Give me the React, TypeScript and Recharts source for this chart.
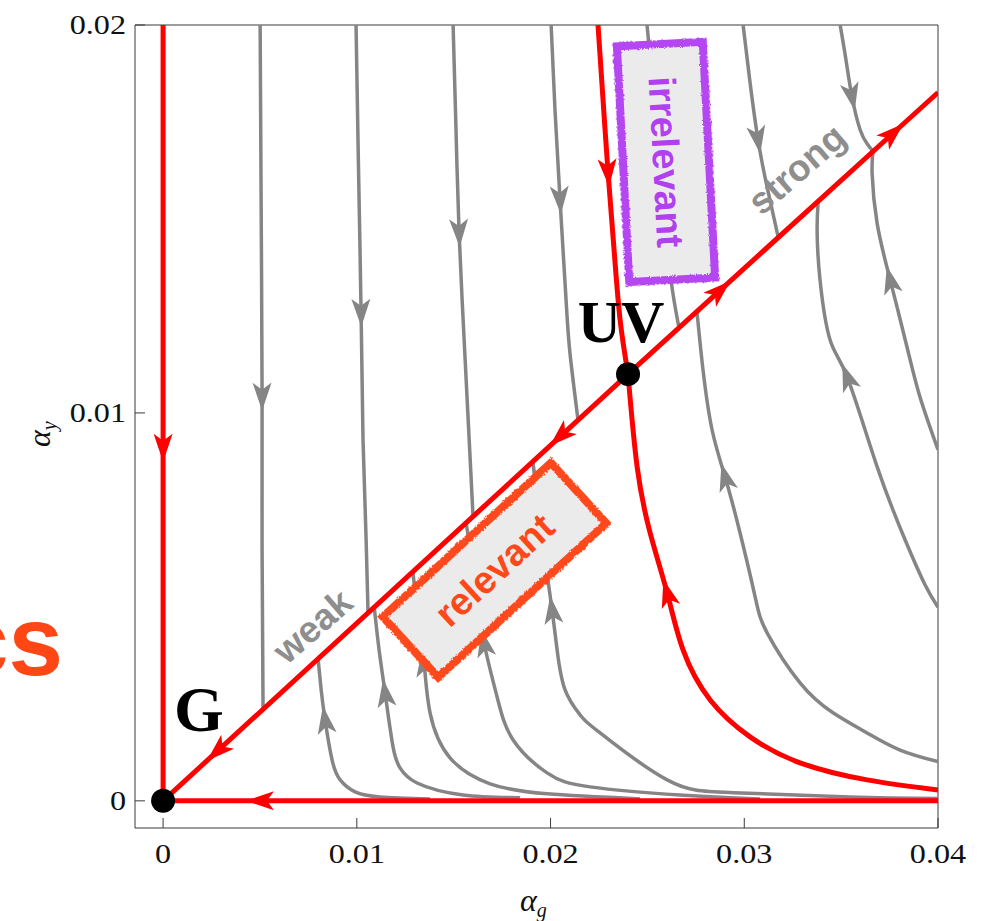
import React from 'react';
import { ComposedChart, Line, XAxis, YAxis, ReferenceLine, ReferenceDot } from 'recharts';

type Pt = { x: number; y: number; a?: number };

// ---------- axes ----------
const xTicks = [0, 0.01, 0.02, 0.03, 0.04];
const yTicks = [0, 0.01, 0.02];
const xDomain: [number, number] = [-0.00145, 0.04];
const yDomain: [number, number] = [-0.0007, 0.02];

// ---------- fixed points ----------
const pointG = { x: 0, y: 0 };
const pointUV = { x: 0.024, y: 0.011 };

// ---------- red separatrices (ordered along the flow, a = arrowhead) ----------
const sepVertical: Pt[] = [
  { x: 0, y: 0.02 }, { x: 0, y: 0.0091, a: 1 }, { x: 0, y: 0 },
];
const sepHorizontal: Pt[] = [
  { x: 0.04, y: 0 }, { x: 0.005, y: 0, a: 1 }, { x: 0, y: 0 },
];
const sepDiagToG: Pt[] = [
  { x: 0.024, y: 0.011 }, { x: 0.02049, y: 0.00939, a: 1 }, { x: 0.0028, y: 0.00128, a: 1 }, { x: 0, y: 0 },
];
const sepDiagOut: Pt[] = [
  { x: 0.024, y: 0.011 }, { x: 0.02875, y: 0.01316, a: 1 }, { x: 0.03768, y: 0.01721, a: 1 }, { x: 0.04, y: 0.01826 },
];
const sepIrrTop: Pt[] = [
  { x: 0.02245, y: 0.02 }, { x: 0.02271, y: 0.01807 }, { x: 0.02297, y: 0.01619, a: 1 },
  { x: 0.02328, y: 0.0142 }, { x: 0.02359, y: 0.0124 }, { x: 0.024, y: 0.011 },
];
const sepIrrBottom: Pt[] = [
  { x: 0.04, y: 0.00028 }, { x: 0.03634, y: 0.00054 }, { x: 0.03288, y: 0.00098 }, { x: 0.0303, y: 0.00165 },
  { x: 0.02824, y: 0.0026 }, { x: 0.02684, y: 0.00389 }, { x: 0.02602, y: 0.00536, a: 1 },
  { x: 0.02514, y: 0.00691 }, { x: 0.02447, y: 0.00861 }, { x: 0.024, y: 0.011 },
];

// ---------- gray stream lines ----------
const flowL1: Pt[] = [
  { x: 0.00501, y: 0.02 }, { x: 0.00506, y: 0.01549 }, { x: 0.00511, y: 0.01042, a: 1 },
  { x: 0.00511, y: 0.00647 }, { x: 0.00516, y: 0.00236 },
];
const flowL2: Pt[] = [
  { x: 0.00996, y: 0.02 }, { x: 0.01007, y: 0.01678 }, { x: 0.01022, y: 0.01258, a: 1 },
  { x: 0.01032, y: 0.00931 }, { x: 0.01048, y: 0.00673 }, { x: 0.01058, y: 0.00485 },
];
const flowL3: Pt[] = [
  { x: 0.01497, y: 0.02 }, { x: 0.01512, y: 0.0173 }, { x: 0.01528, y: 0.01464, a: 1 },
  { x: 0.01554, y: 0.01188 }, { x: 0.0158, y: 0.00931 }, { x: 0.016, y: 0.00733 },
];
const flowL4: Pt[] = [
  { x: 0.02003, y: 0.02 }, { x: 0.02023, y: 0.01781 }, { x: 0.02049, y: 0.01549, a: 1 },
  { x: 0.0208, y: 0.01292 }, { x: 0.021, y: 0.01155 }, { x: 0.02142, y: 0.00981 },
];
const flowL5: Pt[] = [
  { x: 0.02498, y: 0.02 }, { x: 0.0254, y: 0.01781 }, { x: 0.02581, y: 0.01549 },
  { x: 0.02622, y: 0.01343 }, { x: 0.02663, y: 0.0122 },
];
const flowL6: Pt[] = [
  { x: 0.02994, y: 0.02 }, { x: 0.03028, y: 0.01859 }, { x: 0.03071, y: 0.01704, a: 1 },
  { x: 0.03118, y: 0.01582 }, { x: 0.03175, y: 0.01453 },
];
const flowL7: Pt[] = [
  { x: 0.03495, y: 0.02 }, { x: 0.03525, y: 0.0191 }, { x: 0.03556, y: 0.01815, a: 1 },
  { x: 0.03598, y: 0.0173 }, { x: 0.03634, y: 0.01694 }, { x: 0.03665, y: 0.01674 },
];
const flowR1: Pt[] = [
  { x: 0.04, y: 0.00499 }, { x: 0.03933, y: 0.00557 }, { x: 0.0383, y: 0.00673 }, { x: 0.03686, y: 0.00861 },
  { x: 0.03531, y: 0.01093, a: 1 }, { x: 0.03443, y: 0.01188 }, { x: 0.03391, y: 0.01343 },
  { x: 0.03376, y: 0.01472 }, { x: 0.03381, y: 0.01543 },
];
const flowR2: Pt[] = [
  { x: 0.04, y: 0.00905 }, { x: 0.03907, y: 0.01041 }, { x: 0.0384, y: 0.0117 }, { x: 0.03753, y: 0.01343, a: 1 },
  { x: 0.03686, y: 0.01488 }, { x: 0.0366, y: 0.01617 }, { x: 0.03665, y: 0.01676 },
];
const flowR3: Pt[] = [
  { x: 0.04, y: 0.00101 }, { x: 0.03804, y: 0.00131 }, { x: 0.03634, y: 0.00175 }, { x: 0.03458, y: 0.00227 },
  { x: 0.03288, y: 0.00304 }, { x: 0.03118, y: 0.00433 }, { x: 0.03056, y: 0.00526 }, { x: 0.02978, y: 0.00691 },
  { x: 0.02901, y: 0.00835, a: 1 }, { x: 0.02834, y: 0.00956 }, { x: 0.02787, y: 0.01111 }, { x: 0.02756, y: 0.0126 },
];
const flowB1: Pt[] = [
  { x: 0.01378, y: 0.00005 }, { x: 0.0112, y: 0.0001 }, { x: 0.00991, y: 0.00023 }, { x: 0.00914, y: 0.00054 },
  { x: 0.00872, y: 0.00106 }, { x: 0.00836, y: 0.00209, a: 1 }, { x: 0.00816, y: 0.00286 }, { x: 0.008, y: 0.00366 },
];
const flowB2: Pt[] = [
  { x: 0.01843, y: 0.00008 }, { x: 0.01549, y: 0.00015 }, { x: 0.01311, y: 0.00046 }, { x: 0.01223, y: 0.00085 },
  { x: 0.01187, y: 0.00139 }, { x: 0.01146, y: 0.00278, a: 1 }, { x: 0.01115, y: 0.00389 }, { x: 0.0109, y: 0.00499 },
];
const flowB3: Pt[] = [
  { x: 0.02462, y: 0.00005 }, { x: 0.01982, y: 0.00018 }, { x: 0.01688, y: 0.00044 }, { x: 0.01481, y: 0.00111 },
  { x: 0.01378, y: 0.00227 }, { x: 0.01347, y: 0.00356, a: 1 }, { x: 0.01316, y: 0.00467 }, { x: 0.0129, y: 0.00591 },
];
const flowB4: Pt[] = [
  { x: 0.03082, y: 0.00005 }, { x: 0.02669, y: 0.00015 }, { x: 0.02204, y: 0.00036 }, { x: 0.01982, y: 0.00072 },
  { x: 0.01807, y: 0.00157 }, { x: 0.01724, y: 0.00268 }, { x: 0.01657, y: 0.00407, a: 1 }, { x: 0.01626, y: 0.00518 },
  { x: 0.01595, y: 0.00621 }, { x: 0.01564, y: 0.00717 },
];
const flowB5: Pt[] = [
  { x: 0.04, y: 0.00006 }, { x: 0.03546, y: 0.0001 }, { x: 0.02942, y: 0.00021 }, { x: 0.02602, y: 0.00054 },
  { x: 0.02256, y: 0.00175 }, { x: 0.02152, y: 0.00222 }, { x: 0.02075, y: 0.00286 }, { x: 0.02034, y: 0.00389 },
  { x: 0.02008, y: 0.00492, a: 1 }, { x: 0.01972, y: 0.00621 }, { x: 0.01936, y: 0.0075 }, { x: 0.0191, y: 0.00872 },
];

const grayFlows: Pt[][] = [
  flowL1, flowL2, flowL3, flowL4, flowL5, flowL6, flowL7,
  flowR1, flowR2, flowR3, flowB1, flowB2, flowB3, flowB4, flowB5,
];
const redCurved: Pt[][] = [sepIrrTop, sepIrrBottom];
const redStraight: Pt[][] = [sepVertical, sepHorizontal, sepDiagToG, sepDiagOut];

// ---------- annotation texts ----------
const labelWeak = { text: 'weak', x: 0.00774, y: 0.00449 };
const labelStrong = { text: 'strong', x: 0.03273, y: 0.01627 };
const boxIrrelevant = { text: 'irrelevant', x: 0.02596, y: 0.01647 };
const boxRelevant = { text: 'relevant', x: 0.01711, y: 0.00595 };

// ---------- layout ----------
const W = 993;
const H = 921;
const M = { top: 25, right: 55, left: 0, bottom: 0 };
const Y_AXIS_W = 135;
const X_AXIS_H = 93;
const GRAY = '#858585';
const RED = '#ff0000';
const FRAME = '#3a3a3a';
const SERIF = 'Liberation Serif, Times New Roman, serif';
const SANS = 'Liberation Sans, Arial, sans-serif';
const kx = (W - M.right - Y_AXIS_W) / (xDomain[1] - xDomain[0]);
const ky = (H - M.top - X_AXIS_H) / (yDomain[1] - yDomain[0]);

const makeArrowDot = (color: string, series: Pt[]) => (props: any) => {
  const { cx, cy, index, payload, points } = props;
  const key = `dot-${index}`;
  if (!payload || !payload.a || cx == null || cy == null) return <g key={key} />;
  const i0 = Math.max(0, index - 1);
  const i1 = Math.min(series.length - 1, index + 1);
  let dx: number;
  let dy: number;
  if (points && points[i0] && points[i1]) {
    dx = points[i1].x - points[i0].x;
    dy = points[i1].y - points[i0].y;
  } else {
    dx = (series[i1].x - series[i0].x) * kx;
    dy = -(series[i1].y - series[i0].y) * ky;
  }
  const len = Math.hypot(dx, dy) || 1;
  dx /= len;
  dy /= len;
  const L = 28;
  const HW = 9.5;
  const N = 7;
  const tx = cx + (dx * L) / 2;
  const ty = cy + (dy * L) / 2;
  const bx = cx - (dx * L) / 2;
  const by = cy - (dy * L) / 2;
  const lx = bx - dy * HW;
  const ly = by + dx * HW;
  const rx = bx + dy * HW;
  const ry = by - dx * HW;
  const nx = bx + dx * N;
  const ny = by + dy * N;
  return (
    <path
      key={key}
      d={`M${tx},${ty}L${lx},${ly}L${nx},${ny}L${rx},${ry}Z`}
      fill={color}
      stroke="none"
    />
  );
};

const XTick = (props: any) => {
  const { x, y, payload } = props;
  return (
    <g>
      <line x1={x} y1={y} x2={x} y2={y - 10} stroke={FRAME} strokeWidth={1} />
      <text
        x={0}
        y={0}
        textAnchor="middle"
        fontFamily={SERIF}
        fontSize={28}
        fill="#111"
        transform={`translate(${x},${y + 35}) scale(1.15,1)`}
      >
        {String(payload.value)}
      </text>
    </g>
  );
};

const YTick = (props: any) => {
  const { x, y, payload } = props;
  return (
    <g>
      <line x1={x} y1={y} x2={x + 10} y2={y} stroke={FRAME} strokeWidth={1} />
      <text
        x={0}
        y={0}
        textAnchor="end"
        fontFamily={SERIF}
        fontSize={28}
        fill="#111"
        transform={`translate(${x - 9},${y + 9}) scale(1.15,1)`}
      >
        {String(payload.value)}
      </text>
    </g>
  );
};

const RoughFilter = ({ id }: { id: string }) => (
  <defs>
    <filter id={id} x="-10%" y="-10%" width="120%" height="120%">
      <feTurbulence type="fractalNoise" baseFrequency="0.9" numOctaves={2} seed={3} result="noise" />
      <feDisplacementMap in="SourceGraphic" in2="noise" scale={3.5} xChannelSelector="R" yChannelSelector="G" />
    </filter>
  </defs>
);

export default function App() {
  return (
    <div style={{ position: 'absolute', left: 0, top: 0, width: W, height: H, background: '#fff' }}>
      <ComposedChart width={W} height={H} margin={M}>
        <XAxis
          type="number"
          dataKey="x"
          domain={xDomain}
          allowDataOverflow
          ticks={xTicks}
          interval={0}
          height={X_AXIS_H}
          tickLine={false}
          tickSize={0}
          tickMargin={0}
          axisLine={{ stroke: FRAME, strokeWidth: 1 }}
          tick={<XTick />}
        />
        <YAxis
          type="number"
          dataKey="y"
          domain={yDomain}
          allowDataOverflow
          ticks={yTicks}
          interval={0}
          width={Y_AXIS_W}
          tickLine={false}
          tickSize={0}
          tickMargin={0}
          axisLine={{ stroke: FRAME, strokeWidth: 1 }}
          tick={<YTick />}
        />
        <ReferenceLine x={xDomain[1]} stroke={FRAME} strokeWidth={1} ifOverflow="visible" />
        <ReferenceLine y={yDomain[1]} stroke={FRAME} strokeWidth={1} ifOverflow="visible" />

        {grayFlows.map((s, i) => (
          <Line
            key={`g${i}`}
            data={s}
            dataKey="y"
            type="natural"
            stroke={GRAY}
            strokeWidth={3.5}
            dot={makeArrowDot(GRAY, s)}
            activeDot={false}
            isAnimationActive={false}
            legendType="none"
          />
        ))}
        {redStraight.map((s, i) => (
          <Line
            key={`rs${i}`}
            data={s}
            dataKey="y"
            type="linear"
            stroke={RED}
            strokeWidth={5}
            dot={makeArrowDot(RED, s)}
            activeDot={false}
            isAnimationActive={false}
            legendType="none"
          />
        ))}
        {redCurved.map((s, i) => (
          <Line
            key={`rc${i}`}
            data={s}
            dataKey="y"
            type="natural"
            stroke={RED}
            strokeWidth={5}
            dot={makeArrowDot(RED, s)}
            activeDot={false}
            isAnimationActive={false}
            legendType="none"
          />
        ))}

        <ReferenceDot
          x={boxRelevant.x}
          y={boxRelevant.y}
          ifOverflow="visible"
          shape={(p: any) => (
            <g transform={`translate(${p.cx},${p.cy}) rotate(-42.5)`}>
              <RoughFilter id="roughRel" />
              <rect x={-114} y={-41} width={228} height={82} fill="#ebebeb" />
              <rect x={-114} y={-41} width={228} height={82} fill="none" stroke="#ff4a1c" strokeWidth={8} filter="url(#roughRel)" />
              <text
                x={0}
                y={13}
                textAnchor="middle"
                fontFamily={SANS}
                fontWeight="bold"
                fontSize={38}
                fill="#ff4818"
              >
                {boxRelevant.text}
              </text>
            </g>
          )}
        />
        <ReferenceDot
          x={boxIrrelevant.x}
          y={boxIrrelevant.y}
          ifOverflow="visible"
          shape={(p: any) => (
            <g transform={`translate(${p.cx},${p.cy}) rotate(-3)`}>
              <RoughFilter id="roughIrr" />
              <rect x={-43} y={-118} width={86} height={236} fill="#ebebeb" />
              <rect x={-43} y={-118} width={86} height={236} fill="none" stroke="#b446f2" strokeWidth={8} filter="url(#roughIrr)" />
              <text
                x={0}
                y={13}
                transform="rotate(90)"
                textAnchor="middle"
                fontFamily={SANS}
                fontWeight="bold"
                fontSize={38}
                fill="#b040f0"
              >
                {boxIrrelevant.text}
              </text>
            </g>
          )}
        />
        <ReferenceDot
          x={labelWeak.x}
          y={labelWeak.y}
          ifOverflow="visible"
          shape={(p: any) => (
            <text
              x={0}
              y={12}
              transform={`translate(${p.cx},${p.cy}) rotate(-41)`}
              textAnchor="middle"
              fontFamily={SANS}
              fontWeight="bold"
              fontSize={37}
              fill="#8e8e8e"
            >
              {labelWeak.text}
            </text>
          )}
        />
        <ReferenceDot
          x={labelStrong.x}
          y={labelStrong.y}
          ifOverflow="visible"
          shape={(p: any) => (
            <text
              x={0}
              y={12}
              transform={`translate(${p.cx},${p.cy}) rotate(-41)`}
              textAnchor="middle"
              fontFamily={SANS}
              fontWeight="bold"
              fontSize={37}
              fill="#8e8e8e"
            >
              {labelStrong.text}
            </text>
          )}
        />
        <ReferenceDot
          x={pointG.x}
          y={pointG.y}
          ifOverflow="visible"
          shape={(p: any) => (
            <g>
              <circle cx={p.cx} cy={p.cy} r={12} fill="#000" />
              <text
                x={p.cx + 11}
                y={p.cy - 70}
                fontFamily={SERIF}
                fontWeight="bold"
                fontSize={64}
                fill="#000"
              >
                G
              </text>
            </g>
          )}
        />
        <ReferenceDot
          x={pointUV.x}
          y={pointUV.y}
          ifOverflow="visible"
          shape={(p: any) => (
            <g>
              <circle cx={p.cx} cy={p.cy} r={12} fill="#000" />
              <text
                x={p.cx - 7}
                y={p.cy - 32}
                textAnchor="middle"
                fontFamily={SERIF}
                fontWeight="bold"
                fontSize={60}
                fill="#000"
              >
                UV
              </text>
            </g>
          )}
        />
      </ComposedChart>
      <svg
        width={W}
        height={H}
        style={{ position: 'absolute', left: 0, top: 0, pointerEvents: 'none' }}
      >
        <text
          x={63}
          y={675}
          textAnchor="end"
          fontFamily={SANS}
          fontWeight="bold"
          fontSize={98}
          fill="#ff4614"
        >
          cs
        </text>
        <text
          x={520}
          y={911}
          fontFamily={SERIF}
          fontStyle="italic"
          fontSize={32}
          fill="#111"
        >
          α<tspan fontSize={20} dy={6}>g</tspan>
        </text>
        <text
          x={0}
          y={0}
          transform="translate(50,447) rotate(-90)"
          fontFamily={SERIF}
          fontStyle="italic"
          fontSize={32}
          fill="#111"
        >
          α<tspan fontSize={20} dy={6}>y</tspan>
        </text>
      </svg>
    </div>
  );
}
